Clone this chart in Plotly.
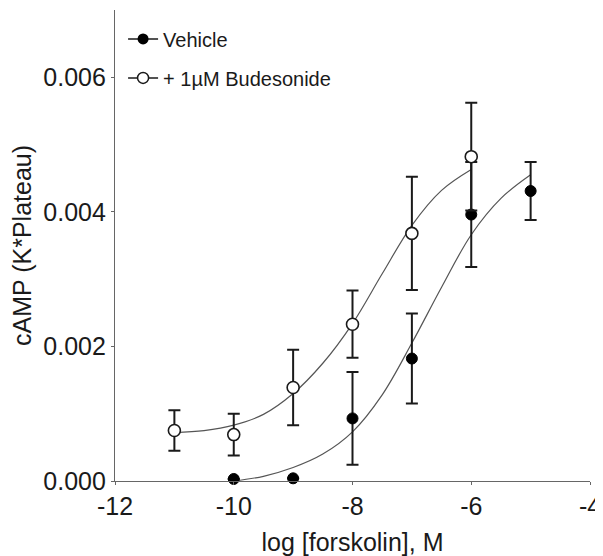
import plotly.graph_objects as go

vehicle_x = [-10, -9, -8, -7, -6, -5]
vehicle_y = [0.00003, 0.00004, 0.00093, 0.00182, 0.00396, 0.00431]
vehicle_err = [0, 0, 0.00069, 0.00067, 0.00078, 0.00043]

bud_x = [-11, -10, -9, -8, -7, -6]
bud_y = [0.00075, 0.00069, 0.00139, 0.00233, 0.00368, 0.00482]
bud_err = [0.0003, 0.00031, 0.00056, 0.0005, 0.00084, 0.0008]

# Fitted curves, points
vehicle_fit_x = [-10, -9.5, -9, -8.5, -8, -7.5, -7, -6.5, -6, -5.5, -5]
vehicle_fit_y = [0.0, 0.00007, 0.0002, 0.0004, 0.00073, 0.00128, 0.00205,
                 0.00288, 0.00366, 0.0042, 0.00455]
bud_fit_x = [-11, -10.5, -10, -9.5, -9, -8.5, -8, -7.5, -7, -6.5, -6]
bud_fit_y = [0.00072, 0.00075, 0.00083, 0.00099, 0.0013, 0.00175, 0.00234,
             0.00308, 0.0038, 0.00432, 0.00463]

x_ticks = [-12, -10, -8, -6, -4]
x_tick_labels = ['-12', '-10', '-8', '-6', '-4']
y_ticks = [0.0, 0.002, 0.004, 0.006]

FONT = 'Arial, Liberation Sans, sans-serif'
CURVE = '#555555'
INK = '#1a1a1a'

fig = go.Figure()

# fitted curves
for fx, fy in [(bud_fit_x, bud_fit_y), (vehicle_fit_x, vehicle_fit_y)]:
    fig.add_trace(go.Scatter(
        x=fx, y=fy, mode='lines', line=dict(color=CURVE, width=1.2, shape='spline'),
        showlegend=False, hoverinfo='skip'
    ))

# data points with error bars
fig.add_trace(go.Scatter(
    x=vehicle_x, y=vehicle_y, mode='markers', name='Vehicle',
    marker=dict(color='black', size=11, line=dict(color='black', width=1)),
    error_y=dict(type='data', array=vehicle_err, color=INK, thickness=2, width=6),
    cliponaxis=False, showlegend=False
))
fig.add_trace(go.Scatter(
    x=bud_x, y=bud_y, mode='markers', name='+ 1µM Budesonide',
    marker=dict(color='white', size=12, line=dict(color=INK, width=1.6)),
    error_y=dict(type='data', array=bud_err, color=INK, thickness=2, width=6),
    cliponaxis=False, showlegend=False
))

# legend-only entries (line through marker, like the original)
fig.add_trace(go.Scatter(
    x=[None], y=[None], mode='lines+markers', name='Vehicle', legendgroup='a',
    line=dict(color=INK, width=1.5),
    marker=dict(color='black', size=11)
))
fig.add_trace(go.Scatter(
    x=[None], y=[None], mode='lines+markers', name='+ 1µM Budesonide', legendgroup='b',
    line=dict(color=INK, width=1.5),
    marker=dict(color='white', size=11, line=dict(color=INK, width=1.5))
))

# page body has an 8px margin, so the figure is sized to fit the window
fig.update_layout(
    width=595, height=548,
    margin=dict(l=107, r=11, t=2, b=75),
    plot_bgcolor='white', paper_bgcolor='white',
    font=dict(family=FONT, color=INK),
    legend=dict(x=0.017, y=0.98, xanchor='left', yanchor='top',
                font=dict(size=20, family=FONT, color=INK),
                tracegroupgap=10, itemwidth=30, bgcolor='rgba(0,0,0,0)'),
    xaxis=dict(
        range=[-12, -4], tickvals=x_ticks, ticktext=x_tick_labels,
        showgrid=False, zeroline=False, showline=True, linecolor='#666666', linewidth=1.2,
        ticks='outside', ticklen=3, tickcolor='#666666',
        tickfont=dict(size=25), ticklabeloverflow='allow',
        title=dict(text='log [forskolin], M', font=dict(size=25), standoff=14)
    ),
    yaxis=dict(
        range=[0, 0.007], tickvals=y_ticks, tickformat='.3f',
        showgrid=False, zeroline=False, showline=True, linecolor='#666666', linewidth=1.2,
        ticks='outside', ticklen=3, tickcolor='#666666',
        tickfont=dict(size=25),
        title=dict(text='cAMP (K*Plateau)', font=dict(size=25), standoff=6)
    ),
)

fig.write_html("out.html")
